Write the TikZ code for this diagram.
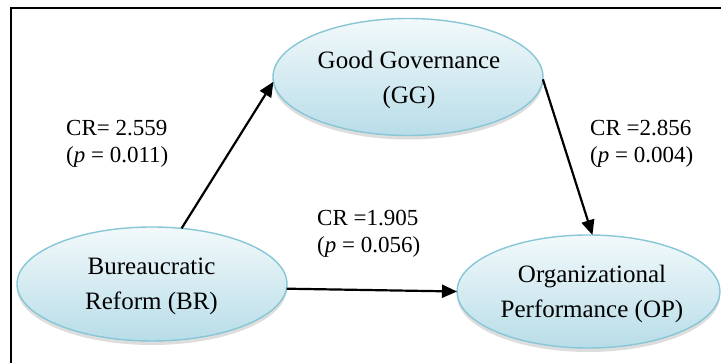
\documentclass[tikz,border=0pt]{standalone}
\usepackage{fontspec}
\setmainfont{Liberation Serif}
\usetikzlibrary{shapes.geometric,arrows.meta,shadows}
\definecolor{elltop}{RGB}{242,249,251}
\definecolor{ellbot}{RGB}{184,221,232}
\definecolor{elldraw}{RGB}{135,198,214}
\tikzset{
  construct/.style={ellipse, draw=elldraw, line width=1.4pt, top color=elltop, bottom color=ellbot,
    inner sep=0pt, outer sep=0pt,
    drop shadow={shadow xshift=0pt, shadow yshift=-4pt, opacity=0.22, fill=black!60}},
  nodetext/.style={font=\fontsize{25}{35}\selectfont, inner sep=0pt, anchor=base},
  crlabel/.style={font=\fontsize{23}{27}\selectfont, inner sep=0pt, anchor=base west},
  path arrow/.style={line width=2.2pt, -{Triangle[length=15pt,width=13pt]}}
}
\begin{document}
\begin{tikzpicture}[x=1pt,y=-1pt]
\useasboundingbox (0,0) rectangle (721,363);
\clip (0,0) rectangle (721,363);
\draw[line width=2pt] (11,380) -- (11,8) -- (740,8);

\node[construct, minimum width=270pt, minimum height=117pt] (GG) at (408,77) {};
\node[construct, minimum width=270pt, minimum height=114pt] (BR) at (152,284) {};
\node[construct, minimum width=263pt, minimum height=113pt] (OP) at (588.5,291.5) {};

\node[nodetext] (GGt) at (409,69) {\begin{tabular}[t]{@{}c@{}}Good Governance\\(GG)\end{tabular}};
\node[nodetext] (BRt) at (151.5,275) {\begin{tabular}[t]{@{}c@{}}Bureaucratic\\Reform (BR)\end{tabular}};
\node[nodetext] (OPt) at (592,283) {\begin{tabular}[t]{@{}c@{}}Organizational\\Performance (OP)\end{tabular}};

\draw[path arrow] (BR.62.6) -- (GG.182);
\draw[path arrow] (GG.-1) -- (OP.86.5);
\draw[path arrow] (BR.-2.5) -- (OP.180.7);

\node[crlabel] (L1) at (66,136) {\begin{tabular}[t]{@{}l@{}}CR= 2.559\\(\textit{p} = 0.011)\end{tabular}};
\node[crlabel] (L2) at (317,226) {\begin{tabular}[t]{@{}l@{}}CR =1.905\\(\textit{p} = 0.056)\end{tabular}};
\node[crlabel] (L3) at (590,136) {\begin{tabular}[t]{@{}l@{}}CR =2.856\\(\textit{p} = 0.004)\end{tabular}};
\end{tikzpicture}
\end{document}
